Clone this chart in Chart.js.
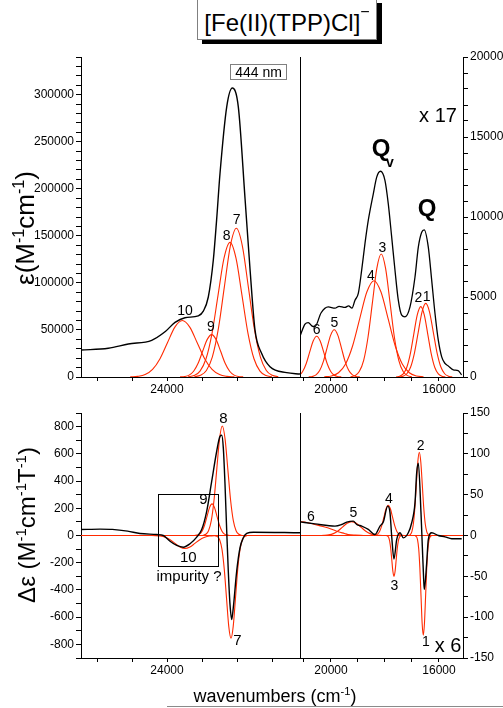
<!DOCTYPE html>
<html>
<head>
<meta charset="utf-8">
<script src="https://cdn.jsdelivr.net/npm/chart.js@4.4.1/dist/chart.umd.min.js"></script>
<style>
  body { margin: 0; width: 503px; height: 708px; position: relative; overflow: hidden; background: #fff;
         font-family: "Liberation Sans", Arial, sans-serif; color: #000; }
  .panel { position: absolute; }
  .t { position: absolute; white-space: nowrap; transform: translate(-50%, -50%); line-height: 1; }
  .rot { transform: translate(-50%, -50%) rotate(-90deg); }
  sup { font-size: 62%; vertical-align: 0; position: relative; top: -0.6em; line-height: 0; }
</style>
</head>
<body>

<div class="panel" style="left:0;top:45px"><canvas id="tl" width="300" height="360"></canvas></div>
<div class="panel" style="left:300px;top:45px"><canvas id="tr" width="203" height="360"></canvas></div>
<div class="panel" style="left:0;top:400px"><canvas id="bl" width="300" height="285"></canvas></div>
<div class="panel" style="left:300px;top:400px"><canvas id="br" width="203" height="285"></canvas></div>

<div style="position:absolute;left:197px;top:-1px;width:180px;height:41px;box-sizing:border-box;border:1px solid #808080;background:#fff;box-shadow:5px 4px 0 #000;font-size:24px;line-height:24px;padding-top:11px;text-align:center;">[Fe(II)(TPP)Cl]<sup style="font-size:16px;top:-0.9em">&#8722;</sup></div>
<div style="position:absolute;left:230px;top:64px;width:57px;height:16px;box-sizing:border-box;border:1px solid #808080;font-size:14px;line-height:14px;text-align:center;">444 nm</div>

<div class="t rot" style="left:25px;top:228px;font-size:26px">&#949;(M<sup>-1</sup>cm<sup>-1</sup>)</div>
<div class="t rot" style="left:27px;top:525px;font-size:24px">&#916;&#949; (M<sup>-1</sup>cm<sup>-1</sup>T<sup>-1</sup>)</div>
<div class="t" style="left:275px;top:696px;font-size:18px">wavenumbers (cm<sup>-1</sup>)</div>
<div style="position:absolute;left:167px;top:706px;width:336px;height:1px;background:#8a8a8a"></div>

<div class="t" style="left:438px;top:115px;font-size:20px">x 17</div>
<div class="t" style="left:448px;top:645px;font-size:20px">x 6</div>
<div class="t" style="left:381px;top:148px;font-size:24px;font-weight:bold">Q</div>
<div class="t" style="left:390px;top:162px;font-size:14px;font-weight:bold">v</div>
<div class="t" style="left:427px;top:208px;font-size:24px;font-weight:bold">Q</div>

<script>
// wavenumber (cm-1), value

// absorption, Soret region
const absSoret = [[25966,28700],[25342,30500],[24885,35000],[24350,39000],[24046,48000],[23817,58000],[23589,63000],[23285,65000],[23170,70000],[23056,85000],[22942,124000],[22866,167000],[22789,216000],[22635,287000],[22507,307000],[22370,287000],[22217,190000],[22103,115000],[21989,50000],[21836,25000],[21646,11000],[21265,4600],[20960,3200]];
const absBand10 = [[22460,130],[22630,670],[22800,2600],[22970,8100],[23140,19500],[23310,36400],[23480,53000],[23650,60000],[23820,53000],[23990,36400],[24160,19500],[24330,8100],[24500,2600],[24670,670],[24840,130]];
const absBand9 = [[22259,100],[22362,500],[22465,2000],[22568,6100],[22671,14600],[22774,27300],[22877,39700],[22980,45000],[23083,39700],[23186,27300],[23289,14600],[23392,6100],[23495,2000],[23598,500],[23701,100]];
const absBand8 = [[21601,310],[21738,1600],[21875,6300],[22012,19350],[22149,46400],[22286,86700],[22423,126200],[22560,143000],[22697,126200],[22834,86700],[22971,46400],[23108,19350],[23245,6300],[23382,1600],[23519,310]];
const absBand7 = [[21456,350],[21593,1750],[21730,6900],[21867,21400],[22004,51300],[22141,95800],[22278,139400],[22415,158000],[22552,139400],[22689,95800],[22826,51300],[22963,21400],[23100,6900],[23237,1750],[23374,350]];

// absorption, Q region (x 17)
const absQ = [[21148,2550],[20963,3300],[20841,3400],[20700,3180],[20593,3150],[20370,4000],[20100,4380],[19852,4300],[19700,4420],[19481,4350],[19350,4450],[19222,4300],[19111,4800],[18989,5220],[18863,6690],[18741,8350],[18618,9800],[18433,11450],[18307,12490],[18167,12860],[18000,12280],[17878,10820],[17752,8740],[17630,6670],[17507,4800],[17381,3860],[17259,3760],[17074,4380],[16889,6250],[16766,8120],[16641,9050],[16548,9200],[16396,8120],[16270,6040],[16148,3970],[16026,2300],[15900,1260],[15778,850],[15655,690],[15470,440],[15289,400],[15163,130]];
const absBand6 = [[19620,6],[19750,28],[19880,110],[20010,345],[20140,830],[20270,1550],[20400,2250],[20530,2550],[20660,2250],[20790,1550],[20920,830],[21050,345],[21180,110],[21310,28]];
const absBand5 = [[18935,6],[19070,33],[19205,130],[19340,400],[19475,960],[19610,1790],[19745,2600],[19880,2950],[20015,2600],[20150,1790],[20285,960],[20420,400],[20555,130],[20690,33],[20825,6]];
const absBand4 = [[16573,13],[16835,67],[17098,264],[17360,815],[17623,1955],[17885,3650],[18148,5310],[18410,6020],[18673,5310],[18935,3650],[19198,1955],[19460,815],[19723,264],[19985,67],[20248,13]];
const absBand3 = [[17003,17],[17165,85],[17328,338],[17490,1040],[17653,2500],[17815,4660],[17978,6790],[18140,7690],[18303,6790],[18465,4660],[18628,2500],[18790,1040],[18953,338],[19115,85],[19278,17]];
const absBand2 = [[15765,10],[15895,49],[16025,193],[16155,595],[16285,1430],[16415,2670],[16545,3880],[16675,4400],[16805,3880],[16935,2670],[17065,1430],[17195,595],[17325,193],[17455,49],[17585,10]];
const absBand1 = [[15510,10],[15650,51],[15790,202],[15930,622],[16070,1494],[16210,2790],[16350,4060],[16490,4600],[16630,4060],[16770,2790],[16910,1494],[17050,622],[17190,202],[17330,51],[17470,10]];

// MCD, Soret region
const mcdSoret = [[25966,44],[25531,47],[25250,45],[24900,32],[24617,15],[24235,7],[24085,0],[23931,-42],[23778,-73],[23627,-86],[23474,-61],[23321,-12],[23207,44],[23093,178],[22978,399],[22864,619],[22789,729],[22750,736],[22713,644],[22674,374],[22635,32],[22599,-262],[22560,-506],[22521,-617],[22485,-531],[22407,-262],[22331,-90],[22256,-17],[22178,15],[22027,24],[20960,20]];
const mcdBand10 = [[22799,-0.2],[22912,-1.1],[23025,-4.2],[23138,-13],[23251,-31],[23364,-58],[23477,-85],[23590,-96],[23703,-85],[23816,-58],[23929,-31],[24042,-13],[24155,-4.2],[24268,-1.1],[24381,-0.2]];
const mcdBand9 = [[22572,0.5],[22629,2.6],[22686,10],[22743,31],[22800,75],[22857,141],[22914,205],[22971,232],[23028,205],[23085,141],[23142,75],[23199,31],[23256,10],[23313,2.6],[23370,0.5]];
const mcdBand8 = [[22295,1.8],[22358,9],[22421,35],[22484,109],[22547,261],[22610,488],[22673,710],[22736,805],[22799,710],[22862,488],[22925,261],[22988,109],[23051,35],[23114,9],[23177,1.8]];
const mcdBand7 = [[22177,-1.7],[22228,-8.4],[22280,-33],[22331,-102],[22383,-245],[22434,-458],[22486,-666],[22537,-755],[22589,-666],[22640,-458],[22692,-245],[22743,-102],[22795,-33],[22846,-8.4],[22898,-1.7]];

// MCD, Q region (x 6)
const mcdQ = [[21174,16.8],[20593,14.3],[19852,11.5],[19604,13.5],[19418,16.4],[19174,17.6],[19048,13.5],[18863,11.5],[18618,7.4],[18370,1.2],[18185,11.5],[18063,16.4],[17900,36],[17815,28],[17752,-1],[17667,-28.7],[17567,-5],[17444,3.3],[17322,-2.9],[17137,3.3],[17011,15.6],[16889,40],[16826,77],[16766,88.5],[16667,28],[16618,-13],[16567,-54],[16544,-66],[16456,-33.6],[16396,-5],[16270,3.3],[16026,0],[15778,-1.6],[15530,-4],[15159,-4]];
const mcdBand6 = [[21148,17],[20900,16],[20593,13.5],[20300,11],[20000,8],[19729,4.5],[19500,2.5],[19359,1.2],[19100,0.4],[18800,0]];
const mcdBand5 = [[18043,0],[18213,0.2],[18383,0.75],[18553,2.3],[18723,5.5],[18893,10.3],[19063,15],[19233,17],[19403,15],[19573,10.3],[19743,5.5],[19913,2.3],[20083,0.75],[20253,0.2],[20423,0]];
const mcdBand4 = [[17320,0.1],[17400,0.4],[17480,1.6],[17560,5],[17640,12],[17720,22.4],[17800,32.7],[17880,37],[17960,32.7],[18040,22.4],[18120,12],[18200,5],[18280,1.6],[18360,0.4],[18440,0.1]];
const mcdBand3 = [[17387,-0.1],[17427,-0.55],[17467,-2.2],[17507,-6.8],[17547,-16.2],[17587,-30.3],[17627,-44.1],[17667,-50],[17707,-44.1],[17747,-30.3],[17787,-16.2],[17827,-6.8],[17867,-2.2],[17907,-0.55],[17947,-0.1]];
const mcdBand2 = [[16341,0.2],[16396,1.1],[16452,4.5],[16507,13.8],[16563,33.1],[16618,61.9],[16674,90],[16729,102],[16785,90],[16840,61.9],[16896,33.1],[16951,13.8],[17007,4.5],[17062,1.1],[17118,0.2]];
const mcdBand1 = [[16284,-0.3],[16326,-1.4],[16369,-5.4],[16411,-16.5],[16454,-39.6],[16496,-74],[16539,-107.7],[16581,-122],[16624,-107.7],[16666,-74],[16709,-39.6],[16751,-16.5],[16794,-5.4],[16836,-1.4],[16879,-0.3]];
const zeroLine = [[15000,0],[27000,0]];

// axis ranges, tick positions and labelled ticks
const soretRange = [20960, 25966];
const qRange = [15111, 21148];
const soretTicks = [21600, 22400, 23200, 24000, 24800, 25600];
const qTicks = [16000, 17000, 18000, 19000, 20000, 21000];
const soretTickLabels = [24000];
const qTickLabels = [20000, 16000];

// band numbers and where they sit
const absSoretNames = ['10', '9', '8', '7'];
const absSoretNameAt = [[23589,69500],[22994,52900],[22635,149300],[22407,166300]];
const absQNames = ['6', '5', '4', '3', '2', '1'];
const absQNameAt = [[20530,2900],[19878,3350],[18518,6300],[18100,8080],[16766,4900],[16455,4970]];
const mcdSoretNames = ['8', '9', '10', '7', 'impurity ?'];
const mcdSoretNameAt = [[22713,859],[23170,264],[23513,-164],[22393,-776],[23497,-306]];
const mcdQNames = ['6', '5', '4', '3', '2', '1'];
const mcdQNameAt = [[20741,23],[19174,27.9],[17852,45],[17655,-61.5],[16678,109.8],[16481,-131]];
const impurityBox = [24197, 22830, 306, -225];

const BLACK = '#000000';
const RED = '#ff2a00';
const FONT = '"Liberation Sans", Arial, sans-serif';
const tickFont = { family: FONT, size: 12 };

function curve(points, color, width) {
  return {
    data: points.slice().sort((a, b) => b[0] - a[0]).map(p => ({ x: p[0], y: p[1] })),
    borderColor: color,
    borderWidth: width,
    pointRadius: 0,
    showLine: true,
    fill: false,
    cubicInterpolationMode: 'monotone'
  };
}

function xAxis(range, ticks, labels, h) {
  return {
    type: 'linear', position: 'bottom', display: true, reverse: true, min: range[0], max: range[1],
    border: { display: true, color: BLACK, width: 1 },
    grid: { drawOnChartArea: false, drawTicks: true, tickLength: 4, color: BLACK },
    ticks: {
      display: true, autoSkip: false, maxRotation: 0, minRotation: 0, padding: 1,
      color: BLACK, font: tickFont,
      callback: function (v) { return labels.some(l => Math.abs(l - v) < 1) ? String(Math.round(v)) : ''; }
    },
    afterBuildTicks: s => { s.ticks = ticks.map(v => ({ value: v })); },
    afterFit: s => { s.height = h; }
  };
}

function yAxis(pos, min, max, step, every, w) {
  return {
    type: 'linear', position: pos, min: min, max: max,
    border: { display: true, color: BLACK, width: 1 },
    grid: { drawOnChartArea: false, drawTicks: true, tickLength: 5, color: BLACK },
    ticks: {
      stepSize: step, autoSkip: false, includeBounds: false, padding: 2,
      color: BLACK, font: tickFont,
      callback: v => (Math.abs(v) % every === 0) ? String(v) : ''
    },
    afterFit: s => { s.width = w; }
  };
}

function marks(names, at, size, divider, box) {
  return {
    id: 'marks',
    afterDatasetsDraw(chart) {
      const { ctx, chartArea: a, scales: { x, y } } = chart;
      ctx.save();
      ctx.strokeStyle = BLACK;
      ctx.lineWidth = 1;
      if (divider) {
        ctx.beginPath();
        ctx.moveTo(Math.round(a.left) + 0.5, a.top);
        ctx.lineTo(Math.round(a.left) + 0.5, a.bottom);
        ctx.stroke();
      }
      if (box) {
        const x0 = x.getPixelForValue(box[0]), x1 = x.getPixelForValue(box[1]);
        const y0 = y.getPixelForValue(box[2]), y1 = y.getPixelForValue(box[3]);
        ctx.strokeRect(Math.round(x0) + 0.5, Math.round(y0) + 0.5, Math.round(x1 - x0), Math.round(y1 - y0));
      }
      ctx.fillStyle = BLACK;
      ctx.textAlign = 'center';
      ctx.textBaseline = 'middle';
      names.forEach((t, i) => {
        ctx.font = (t.length > 3 ? 15 : size) + 'px ' + FONT;
        ctx.fillText(t, x.getPixelForValue(at[i][0]), y.getPixelForValue(at[i][1]));
      });
      ctx.restore();
    }
  };
}

function makeChart(id, datasets, scales, padTop, plugin) {
  return new Chart(document.getElementById(id), {
    type: 'scatter',
    data: { datasets: datasets },
    options: {
      responsive: false,
      animation: false,
      devicePixelRatio: 1,
      layout: { padding: { top: padTop, left: 0, right: 0, bottom: 0 } },
      plugins: { legend: { display: false }, tooltip: { enabled: false } },
      scales: scales
    },
    plugins: [plugin]
  });
}

makeChart('tl', [
  curve(absSoret, BLACK, 1.4),
  curve(absBand10, RED, 1.1), curve(absBand9, RED, 1.1),
  curve(absBand8, RED, 1.1), curve(absBand7, RED, 1.1)
], {
  x: xAxis(soretRange, soretTicks, soretTickLabels, 28),
  y: yAxis('left', 0, 340000, 10000, 50000, 81)
}, 12, marks(absSoretNames, absSoretNameAt, 14, false, null));

makeChart('tr', [
  curve(absQ, BLACK, 1.3),
  curve(absBand6, RED, 1.1), curve(absBand5, RED, 1.1), curve(absBand4, RED, 1.1),
  curve(absBand3, RED, 1.1), curve(absBand2, RED, 1.1), curve(absBand1, RED, 1.1)
], {
  x: xAxis(qRange, qTicks, qTickLabels, 28),
  y: yAxis('right', 0, 20000, 1000, 5000, 40)
}, 12, marks(absQNames, absQNameAt, 14, true, null));

makeChart('bl', [
  curve(mcdSoret, BLACK, 1.4),
  curve(zeroLine, RED, 1.1),
  curve(mcdBand10, RED, 1.1), curve(mcdBand9, RED, 1.1),
  curve(mcdBand8, RED, 1.1), curve(mcdBand7, RED, 1.1)
], {
  x: xAxis(soretRange, soretTicks, soretTickLabels, 27),
  y: yAxis('left', -900, 900, 100, 200, 81)
}, 13, marks(mcdSoretNames, mcdSoretNameAt, 15, false, impurityBox));

makeChart('br', [
  curve(mcdQ, BLACK, 1.4),
  curve(zeroLine, RED, 1.1),
  curve(mcdBand6, RED, 1.1), curve(mcdBand5, RED, 1.1), curve(mcdBand4, RED, 1.1),
  curve(mcdBand3, RED, 1.1), curve(mcdBand2, RED, 1.1), curve(mcdBand1, RED, 1.1)
], {
  x: xAxis(qRange, qTicks, qTickLabels, 27),
  y: yAxis('right', -150, 150, 25, 50, 40)
}, 13, marks(mcdQNames, mcdQNameAt, 14, true, null));
</script>
</body>
</html>
